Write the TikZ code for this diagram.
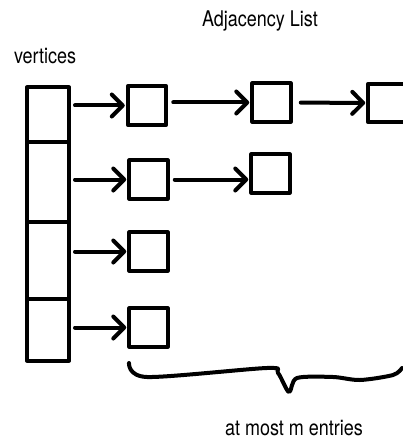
\documentclass[tikz,border=0pt]{standalone}
\usepackage{fontspec}
\setmainfont{TeX Gyre Heros}
\usepackage{graphicx}
\usepackage{tikz}
\usetikzlibrary{arrows.meta}

\begin{document}
\begin{tikzpicture}[x=1pt,y=-1pt,line width=4pt,line cap=round,line join=round]
\tikzset{cell/.style={draw,minimum width=42pt,inner sep=0pt,outer sep=0pt},
  entry/.style={draw,minimum width=38.5pt,minimum height=38.5pt,inner sep=0pt,outer sep=0pt},
  link/.style={-{Straight Barb[length=11pt,width=22pt,round]},shorten <=6pt,shorten >=3pt},
  lbl/.style={font=\fontsize{18}{21}\selectfont,inner sep=0pt,anchor=base}}
\useasboundingbox (0,0) rectangle (403,441);

\node[lbl] (adj) at (260,27) {\scalebox{1}[1.2]{Adjacency List}};
\node[lbl,anchor=base west] (vert) at (12,64) {\scalebox{1}[1.2]{vertices}};
\node[lbl] (most) at (294,435) {\scalebox{1}[1.2]{at most m entries}};

\node[cell,minimum height=54.5pt] (v1) at (48,114.75) {};
\node[cell,minimum height=80pt] (v2) at (48,182) {};
\node[cell,minimum height=77pt] (v3) at (48,260.5) {};
\node[cell,minimum height=61.5pt] (v4) at (48,329.75) {};

\node[entry] (a1) at (147,105.5) {};
\node[entry] (b1) at (271.5,102.5) {};
\node[entry] (c1) at (387.5,103) {};
\node[entry] (a2) at (148.5,179.5) {};
\node[entry] (b2) at (270.5,173.5) {};
\node[entry] (a3) at (148.5,251.5) {};
\node[entry] (a4) at (148.5,327.5) {};

\draw[link] (v1.east |- a1) -- (a1);
\draw[link] (v2.east |- a2) -- (a2);
\draw[link] (v3.east |- a3) -- (a3);
\draw[link] (v4.east |- a4) -- (a4);
\draw[link,shorten <=7pt] (a1.east |- b1) -- (b1);
\draw[link,shorten <=10pt] (b1) -- (c1);
\draw[link,shorten <=7pt] (a2) -- (a2 -| b2.west);

% brace under the lists
\draw plot[smooth,tension=0.5] coordinates {(129,363) (147,377) (267,368) (278,373) (289,392) (297,378) (333,377) (360,380) (393,375) (402,368)};
\end{tikzpicture}
\end{document}
